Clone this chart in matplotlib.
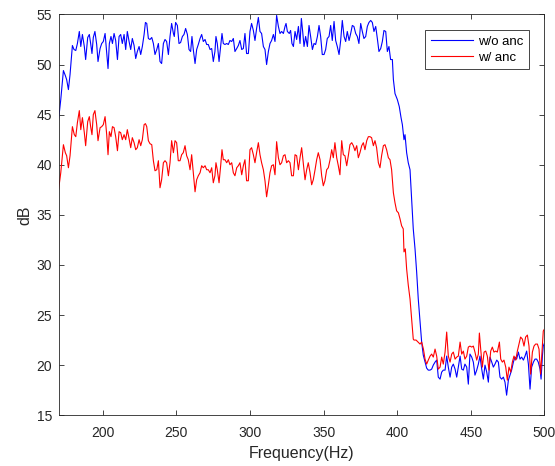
import numpy as np
import matplotlib
matplotlib.use('Agg')
import matplotlib.pyplot as plt

plt.rcParams['font.family'] = ['Liberation Sans', 'DejaVu Sans']

# spectrum without anc (blue)
f_wo = [170.0, 171.5, 173.3, 174.6, 175.5, 176.7, 177.8, 179.4, 180.5, 181.7, 182.8, 184.1, 185.1, 186.2,
        187.5, 188.4, 189.8, 190.9, 191.8, 192.7, 193.6, 194.7, 195.9, 196.8, 198.2, 199.3, 200.4, 201.6,
        202.7, 203.6, 204.5, 205.6, 206.6, 207.7, 208.8, 210.0, 211.1, 212.2, 213.3, 214.5, 215.6, 216.7,
        217.9, 219.0, 220.1, 221.3, 222.4, 223.5, 224.7, 225.8, 226.9, 228.1, 229.0, 229.9, 231.0, 232.1,
        233.3, 234.4, 235.5, 236.7, 237.8,
        238.9, 240.0, 241.2, 242.3, 243.4, 244.6, 245.7, 246.8, 248.0, 248.6, 249.5, 250.7, 251.8, 252.9,
        254.1, 255.2, 256.3, 257.5, 258.6, 259.7, 260.6, 261.5, 262.7, 263.8, 264.9, 266.1, 267.2, 268.3,
        269.5, 270.6, 271.7, 272.9, 274.0, 275.1, 276.2, 276.9, 277.8, 279.0, 280.1, 281.0, 281.9, 283.0,
        284.2, 285.3, 286.4, 287.6, 288.7, 289.8, 291.0, 292.1, 293.2, 294.4, 295.5, 296.6, 297.7, 298.9,
        300.0, 301.1, 302.3, 303.4, 304.5, 305.7, 306.8, 307.9, 309.1, 310.2, 311.3, 312.5, 313.6, 314.7,
        315.9, 317.0, 318.1, 319.3,
        320.4, 321.5, 322.7, 323.8, 324.5, 325.4, 326.7, 327.6, 328.5, 329.5, 330.6, 331.7, 332.9, 334.0,
        334.9, 335.8, 336.7, 337.8, 339.0, 340.1, 341.2, 342.4, 343.5, 344.6, 345.8, 346.9, 348.0, 349.1,
        350.3, 351.4, 352.5, 353.7, 354.8, 355.9, 357.1, 358.2, 359.3, 360.5, 361.6, 362.7, 363.9, 365.0,
        366.1, 367.3, 368.4, 369.5, 370.6, 371.8, 372.9, 374.0, 375.2, 376.3, 377.4, 378.6, 379.7, 380.8,
        382.0, 383.1, 384.2, 385.4, 386.5, 387.6, 388.8, 389.9, 391.0, 392.2, 393.3, 394.4, 395.5, 396.7,
        397.4, 398.5, 400.1, 401.4, 402.6, 403.5, 404.6, 405.3, 406.4, 407.5, 408.7, 409.8, 410.9, 412.1,
        413.2, 414.3, 415.5, 416.6, 417.7, 418.9,
        420.0, 421.1, 422.3, 423.4, 424.5, 425.7, 426.8, 427.9, 429.1, 430.2, 431.3, 432.5, 433.6, 434.7,
        435.9, 437.0, 438.1, 439.3, 440.4, 441.5, 442.7, 443.8, 444.9, 446.0, 447.2, 448.3, 449.4, 450.6,
        451.7, 452.8, 454.0, 455.1, 456.2, 457.4, 458.5, 459.6, 460.8, 461.9, 463.0, 464.2, 465.3, 466.4,
        467.6, 468.7, 469.8, 470.9, 472.1, 473.2, 474.3, 475.5, 476.6, 477.7, 478.9, 480.0, 481.1, 482.3,
        483.4, 484.5, 485.7, 486.8, 487.9, 489.1, 490.2, 491.3, 492.5, 493.6, 494.7, 495.8, 497.0, 497.7,
        498.6, 499.2, 500.0]
db_wo = [44.5, 46.5, 49.4, 48.9, 48.5, 47.5, 49.0, 51.9, 51.5, 51.4, 52.1, 53.3, 51.8, 53.0,
         51.8, 50.5, 52.7, 53.0, 52.1, 51.1, 52.7, 53.3, 52.0, 50.3, 51.6, 52.1, 52.3, 53.1,
         51.1, 49.6, 52.1, 52.8, 52.1, 53.1, 52.4, 50.5, 52.8, 53.0, 52.1, 53.0, 51.5, 53.3,
         52.3, 51.5, 52.6, 51.9, 50.6, 51.3, 51.8, 51.0, 51.8, 53.0, 54.2, 54.1, 52.6, 52.5,
         52.7, 52.1, 51.0, 51.5, 52.1,
         50.3, 50.1, 52.1, 52.5, 52.3, 51.0, 52.8, 54.1, 53.1, 52.8, 54.2, 53.9, 52.1, 52.2,
         52.8, 53.0, 53.6, 53.0, 51.5, 51.3, 52.8, 51.5, 50.1, 51.5, 52.0, 52.6, 53.0, 52.3,
         52.5, 52.0, 52.0, 51.5, 51.6, 50.3, 51.3, 52.8, 52.1, 50.3, 51.8, 53.1, 52.1, 52.0,
         52.1, 52.0, 52.4, 52.3, 52.6, 51.3, 51.6, 51.9, 52.4, 51.5, 51.6, 53.1, 51.1, 51.1,
         53.3, 54.1, 53.4, 52.4, 53.6, 54.7, 53.3, 53.1, 51.8, 51.5, 50.0, 51.3, 52.1, 52.4,
         53.0, 52.3, 54.9, 53.8,
         53.1, 53.3, 53.1, 53.8, 54.1, 53.3, 53.1, 53.4, 52.1, 51.8, 53.3, 52.5, 53.8, 52.1,
         54.6, 53.3, 51.8, 52.8, 51.8, 53.9, 52.8, 51.5, 52.1, 52.0, 52.8, 53.9, 52.8, 51.0,
         51.0, 51.5, 52.6, 52.8, 53.9, 52.4, 54.3, 52.4, 51.8, 51.0, 52.4, 54.4, 52.8, 52.3,
         53.3, 52.4, 53.1, 53.9, 53.8, 53.1, 52.8, 52.1, 54.1, 53.3, 52.6, 52.8, 53.8, 54.2,
         54.4, 54.2, 53.3, 53.8, 52.6, 51.3, 51.6, 52.3, 53.4, 53.3, 51.3, 51.8, 50.5, 50.5,
         48.5, 47.1, 46.5, 45.8, 44.7, 44.0, 42.5, 43.0, 41.2, 40.2, 39.5, 36.5, 33.6, 31.6,
         29.3, 26.6, 24.3, 22.3, 21.0, 20.3,
         19.7, 19.5, 19.5, 19.6, 20.0, 20.3, 20.5, 18.8, 18.6, 19.3, 19.5, 19.5, 20.9, 19.8,
         18.8, 19.8, 20.1, 19.6, 18.8, 19.8, 20.9, 19.6, 19.5, 20.1, 19.8, 18.1, 21.1, 20.8,
         20.3, 19.0, 19.5, 20.1, 20.9, 19.6, 18.6, 20.0, 19.3, 18.3, 20.8, 20.3, 19.8, 20.1,
         20.5, 20.3, 18.8, 18.6, 18.8, 18.3, 17.0, 18.5, 19.0, 19.5, 20.3, 20.8, 20.6, 21.3,
         20.6, 20.8, 20.5, 20.9, 21.4, 20.1, 17.6, 19.8, 20.3, 20.6, 20.6, 20.3, 19.6, 18.6,
         20.9, 21.9, 22.2]

# spectrum with anc (red)
f_w = [170.0, 171.5, 173.3, 174.6, 175.5, 176.7, 177.8, 179.4, 180.7, 181.7, 182.8, 184.1, 185.1, 186.2,
       187.5, 188.4, 189.8, 190.9, 191.8, 192.7, 193.6, 194.7, 195.9, 196.8, 198.2, 199.3, 200.4, 201.6,
       202.7, 203.6, 204.5, 205.6, 206.6, 207.7, 208.8, 210.0, 211.1, 212.2, 213.3, 214.5, 215.6, 216.7,
       217.9, 219.0, 220.1, 221.3, 222.4, 223.5, 224.7, 225.8, 226.9, 228.1, 229.0, 229.9, 231.0, 232.1,
       233.3, 234.4, 235.5, 236.7, 237.8,
       238.9, 240.0, 241.2, 242.3, 243.4, 244.6, 245.7, 246.8, 248.0, 249.1, 250.2, 251.3, 252.5, 253.6,
       254.7, 255.9, 257.0, 258.1, 259.3, 260.4, 261.5, 262.7, 263.8, 264.9, 266.1, 267.2, 268.3, 269.5,
       270.6, 271.7, 272.9, 274.0, 275.1, 276.2, 276.9, 277.8, 279.0, 280.1, 281.0, 281.9, 283.0, 284.2,
       285.3, 286.4, 287.6, 288.7, 289.8, 291.0, 292.1, 293.2, 294.4, 295.5, 296.6, 297.7, 298.9, 300.0,
       301.1, 302.3, 303.4, 304.5, 305.7, 306.8, 307.9, 309.1, 310.2, 311.3, 312.5, 313.6, 314.7, 315.9,
       317.0, 318.1, 319.3,
       320.4, 321.5, 322.7, 323.8, 324.9, 326.1, 327.2, 328.3, 329.5, 330.6, 331.7, 332.9, 334.0, 335.1,
       336.2, 337.4, 338.5, 339.6, 340.8, 341.9, 343.0, 344.2, 345.3, 346.4, 347.6, 348.7, 349.8, 350.9,
       352.1, 353.2, 354.4, 355.5, 356.6, 357.7, 358.9, 360.0, 361.1, 362.3, 363.4, 364.5, 365.7, 366.8,
       367.9, 369.1, 370.2, 371.3, 372.5, 373.6, 374.7, 375.9, 377.0, 378.1, 379.3, 380.4, 381.5, 382.6,
       383.8, 384.9, 386.0, 387.2, 388.3, 389.4, 390.6, 391.7, 392.8, 394.0, 395.1, 396.2,
       397.4, 398.5, 399.6, 400.8, 401.9, 403.0, 404.1, 404.6, 405.5, 406.4, 407.5, 408.7, 409.8, 410.9,
       411.4, 412.8, 414.1, 415.5, 416.6, 417.8, 418.9, 420.0, 421.1, 422.3, 423.4, 424.5, 425.7, 426.8,
       427.9, 429.1, 430.2, 431.3, 432.5, 433.6, 434.7, 435.9, 437.0, 438.1, 439.3, 440.4, 441.5, 442.7,
       443.8, 444.9, 446.0, 447.2, 448.3, 449.4, 450.6, 451.7, 452.8, 454.0, 455.1, 455.8, 456.7, 457.8,
       459.0, 460.1, 461.2, 462.3, 463.5, 464.6, 465.7, 466.9, 468.0, 469.4, 470.3, 471.4, 472.5, 473.7,
       474.8, 475.9, 477.1, 478.2, 479.3, 480.5, 481.6, 482.7, 483.8, 485.0, 486.1, 487.2, 488.4, 489.5,
       490.6, 491.8, 492.9, 494.0, 495.2, 496.3, 497.4, 498.6, 499.2, 500.0]
db_w = [37.5, 39.2, 42.0, 41.2, 40.9, 39.7, 40.9, 43.8, 43.0, 42.8, 44.2, 45.4, 43.5, 44.7,
        43.2, 41.9, 44.3, 44.8, 43.8, 43.0, 45.0, 45.4, 44.0, 42.4, 43.7, 43.8, 44.0, 44.8,
        43.0, 41.0, 43.3, 42.8, 43.8, 43.7, 42.8, 41.4, 43.3, 43.2, 42.5, 43.0, 42.5, 43.5,
        42.6, 41.7, 42.7, 42.2, 41.5, 41.7, 42.5, 41.9, 42.5, 44.0, 44.1, 43.8, 42.4, 42.1,
        42.0, 40.4, 39.4, 39.5, 40.4,
        37.7, 38.5, 40.2, 40.4, 40.2, 38.9, 40.2, 42.4, 41.2, 42.4, 42.2, 40.4, 40.4, 41.0,
        41.2, 41.9, 40.9, 40.5, 39.5, 41.0, 39.2, 37.3, 38.5, 38.9, 39.2, 39.9, 39.7, 39.9,
        39.5, 39.5, 39.2, 39.7, 38.2, 38.9, 40.2, 39.5, 38.2, 39.9, 41.5, 40.5, 40.5, 40.2,
        40.5, 40.0, 40.2, 39.2, 38.9, 39.7, 39.9, 40.2, 39.0, 39.9, 40.5, 38.4, 38.4, 41.5,
        41.7, 41.0, 40.2, 41.2, 42.2, 41.0, 40.2, 39.5, 38.4, 36.8, 38.0, 39.2, 39.9, 40.0,
        39.0, 42.3, 40.7,
        40.0, 40.2, 40.9, 41.0, 40.2, 40.4, 40.2, 38.9, 38.9, 41.0, 40.9, 39.5, 40.7, 41.7,
        40.2, 38.5, 39.5, 40.2, 39.2, 38.0, 38.5, 39.5, 40.5, 41.2, 40.5, 38.9, 37.9, 38.4,
        39.5, 39.7, 40.5, 41.5, 40.7, 42.2, 40.7, 39.9, 39.0, 42.4, 41.0, 40.9, 39.9, 40.9,
        42.0, 42.2, 41.9, 41.4, 41.9, 40.7, 41.2, 41.9, 42.2, 41.5, 42.4, 42.8, 42.8, 42.7,
        41.9, 42.4, 41.7, 40.2, 39.7, 40.9, 41.9, 42.0, 41.5, 40.7, 40.5, 39.5,
        37.2, 36.2, 35.4, 35.2, 34.6, 33.9, 33.6, 31.3, 31.6, 29.6, 28.0, 26.6, 24.6, 22.6,
        22.5, 22.5, 22.3, 22.1, 22.3, 21.6, 20.6, 20.1, 20.5, 20.9, 21.1, 20.8, 21.6, 20.9,
        19.6, 19.8, 20.8, 20.1, 21.3, 23.3, 20.9, 20.3, 21.1, 21.3, 20.6, 20.8, 20.9, 22.3,
        21.1, 21.4, 20.6, 20.9, 21.8, 21.9, 21.8, 21.9, 21.3, 20.5, 21.1, 23.2, 21.6, 19.8,
        21.3, 21.4, 20.9, 19.5, 21.4, 21.8, 21.3, 21.4, 21.3, 22.3, 20.6, 20.3, 20.5, 19.8,
        18.5, 19.8, 19.3, 20.3, 20.9, 20.5, 21.4, 22.1, 22.8, 22.6, 21.9, 22.8, 23.0, 21.9,
        19.1, 21.3, 21.9, 22.1, 22.1, 21.6, 19.1, 21.9, 23.4, 23.6]

x_ticks = [200, 250, 300, 350, 400, 450, 500]
y_ticks = [15, 20, 25, 30, 35, 40, 45, 50, 55]

fig = plt.figure(figsize=(5.55, 4.66), dpi=100)
ax = fig.add_axes([0.1055, 0.109, 0.8755, 0.860])

ax.plot(f_wo, db_wo, color='#0000ff', lw=0.8, label='w/o anc')
ax.plot(f_w, db_w, color='#ff0000', lw=0.8, label='w/ anc')

ax.set_xlim(170, 500)
ax.set_ylim(15, 55)
ax.set_xticks(x_ticks)
ax.set_yticks(y_ticks)
ax.tick_params(direction='in', length=3.5, width=0.6, top=True, right=True,
               labelsize=10, colors='#262626')
ax.tick_params(axis='x', pad=8)
ax.tick_params(axis='y', pad=4.5)
for s in ax.spines.values():
    s.set_color('#262626')
    s.set_linewidth(0.6)

ax.set_xlabel('Frequency(Hz)', fontsize=11.5, color='#262626', labelpad=4)
ax.set_ylabel('dB', fontsize=11.5, color='#262626', labelpad=3)

leg = ax.legend(loc='upper right', bbox_to_anchor=(0.968, 0.961), borderaxespad=0,
                fontsize=9.5, handlelength=3.2, handletextpad=0.4, fancybox=False,
                framealpha=1, edgecolor='#262626', borderpad=0.4, labelspacing=0.3)
leg.get_frame().set_linewidth(0.6)

fig.savefig('out.png', dpi=100)
